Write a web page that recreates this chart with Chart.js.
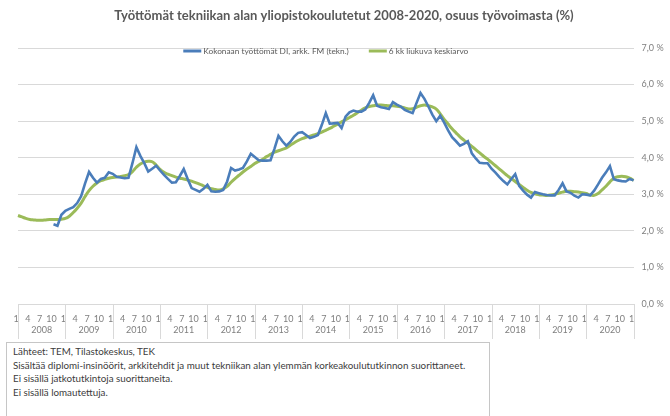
<!DOCTYPE html>
<html>
<head>
<meta charset="utf-8">
<title>Työttömät tekniikan alan yliopistokoulutetut</title>
<style>
	body { margin: 0; background: #fff; }
	#wrap { position: relative; width: 670px; height: 416px; overflow: hidden; }
	#note {
		position: absolute; left: 6px; top: 342px; width: 470px; height: 90px;
		border: 1px solid #c6c6c6; padding: 2px 6px; white-space: nowrap;
		font-family: Lato, "Liberation Sans", sans-serif; font-size: 9.8px; line-height: 13.6px; color: #3c3c3c;
	}
</style>
</head>
<body>
<div id="wrap">
	<canvas id="chart" width="670" height="342"></canvas>
	<div id="note">
		Lähteet: TEM, Tilastokeskus, TEK<br>
		Sisältää diplomi-insinöörit, arkkitehdit ja muut tekniikan alan ylemmän korkeakoulututkinnon suorittaneet.<br>
		Ei sisällä jatkotutkintoja suorittaneita.<br>
		Ei sisällä lomautettuja.
	</div>
</div>

<script src="https://cdn.jsdelivr.net/npm/chart.js"></script>
<script type="text/javascript">

	var years = [2008, 2009, 2010, 2011, 2012, 2013, 2014, 2015, 2016, 2017, 2018, 2019, 2020];
	var monthTicks = [1, 4, 7, 10];		// months that get a label on the axis
	var yTicks = [0, 1, 2, 3, 4, 5, 6, 7];

	// Kokonaan työttömät DI, arkk. FM (tekn.), % — monthly from 1/2008 to 1/2021, series starts 10/2008
	var unemployed = [null, null, null, null, null, null, null, null, null,
		2.18, 2.14, 2.44,
		2.55, 2.60, 2.65, 2.76, 2.95, 3.30, 3.61, 3.45, 3.32, 3.42, 3.45, 3.60,
		3.56, 3.48, 3.46, 3.44, 3.45, 3.85, 4.29, 4.05, 3.85, 3.62, 3.70, 3.78,
		3.65, 3.53, 3.42, 3.32, 3.33, 3.50, 3.69, 3.42, 3.17, 3.12, 3.07, 3.15,
		3.26, 3.08, 3.07, 3.08, 3.12, 3.35, 3.72, 3.65, 3.68, 3.72, 3.90, 4.11,
		4.02, 3.93, 3.92, 3.92, 3.93, 4.25, 4.60, 4.45, 4.33, 4.43, 4.58, 4.68,
		4.70, 4.62, 4.54, 4.57, 4.62, 4.90, 5.22, 4.93, 4.94, 4.95, 4.81, 5.12,
		5.24, 5.29, 5.26, 5.26, 5.32, 5.50, 5.71, 5.42, 5.38, 5.36, 5.33, 5.52,
		5.45, 5.40, 5.31, 5.26, 5.22, 5.50, 5.77, 5.61, 5.40, 5.18, 5.00, 5.15,
		4.96, 4.75, 4.56, 4.45, 4.33, 4.38, 4.45, 4.12, 3.98, 3.86, 3.85, 3.85,
		3.70, 3.59, 3.47, 3.36, 3.27, 3.42, 3.55, 3.23, 3.10, 2.99, 2.91, 3.06,
		3.03, 3.00, 2.98, 2.97, 2.97, 3.12, 3.30, 3.08, 3.04, 2.96, 2.91, 3.00,
		2.99, 2.97, 3.10, 3.27, 3.45, 3.60, 3.77, 3.41, 3.38, 3.36, 3.35, 3.42,
		3.38];

	// 6 kk liukuva keskiarvo, %
	var movingAvg = [
		2.42, 2.38, 2.34, 2.31, 2.30, 2.29, 2.29, 2.30, 2.31, 2.31, 2.31, 2.32,
		2.34, 2.40, 2.50, 2.62, 2.76, 2.94, 3.10, 3.22, 3.31, 3.37, 3.41, 3.44,
		3.46, 3.47, 3.49, 3.51, 3.54, 3.62, 3.74, 3.83, 3.88, 3.90, 3.89, 3.80,
		3.68, 3.60, 3.55, 3.51, 3.47, 3.44, 3.42, 3.39, 3.36, 3.32, 3.28, 3.23,
		3.19, 3.15, 3.13, 3.12, 3.15, 3.22, 3.33, 3.43, 3.52, 3.61, 3.69, 3.76,
		3.84, 3.90, 3.96, 4.03, 4.09, 4.15, 4.19, 4.23, 4.27, 4.34, 4.41, 4.47,
		4.52, 4.56, 4.59, 4.62, 4.66, 4.70, 4.75, 4.80, 4.86, 4.92, 4.98, 5.04,
		5.10, 5.16, 5.23, 5.30, 5.36, 5.40, 5.42, 5.44, 5.44, 5.43, 5.42, 5.42,
		5.41, 5.39, 5.36, 5.33, 5.34, 5.38, 5.42, 5.44, 5.42, 5.39, 5.33, 5.20,
		5.05, 4.92, 4.79, 4.68, 4.57, 4.48, 4.40, 4.31, 4.22, 4.13, 4.04, 3.96,
		3.87, 3.78, 3.69, 3.60, 3.51, 3.43, 3.35, 3.27, 3.19, 3.11, 3.05, 3.01,
		2.99, 2.98, 2.97, 2.98, 3.00, 3.03, 3.06, 3.08, 3.08, 3.07, 3.06, 3.04,
		3.02, 2.98, 2.97, 3.02, 3.12, 3.22, 3.34, 3.44, 3.48, 3.49, 3.48, 3.44,
		3.38];

	var FONT = 'Lato, "Liberation Sans", sans-serif';

	// month labels "m/yyyy", one per data point (last one is 1/2021)
	var labelList = [];
	years.forEach(function (y) {
		for (var m = 1; m <= 12; m++) labelList.push(m + '/' + y);
	});
	labelList.push('1/' + (years[years.length - 1] + 1));

	// year row under the month labels, with separators between years
	var yearRow = {
		id: 'yearRow',
		afterDraw: function (chart) {
			var ctx = chart.ctx, xs = chart.scales.x, top = chart.chartArea.bottom;
			ctx.save();
			ctx.strokeStyle = '#d9d9d9';
			ctx.lineWidth = 1;
			for (var i = 0; i <= years.length; i++) {
				var px = Math.round(xs.getPixelForValue(i * 12)) + 0.5;
				ctx.beginPath();
				ctx.moveTo(px, top);
				ctx.lineTo(px, top + 35);
				ctx.stroke();
			}
			ctx.fillStyle = '#7f7f7f';
			ctx.font = '9px ' + FONT;
			ctx.textAlign = 'center';
			ctx.textBaseline = 'middle';
			years.forEach(function (y, i) {
				ctx.fillText(String(y), xs.getPixelForValue(i * 12 + 6), top + 26);
			});
			ctx.restore();
		}
	};

	// legend drawn inside the plot, under the top gridline
	var innerLegend = {
		id: 'innerLegend',
		afterDraw: function (chart) {
			var ctx = chart.ctx, area = chart.chartArea;
			var sample = 18, gap = 2, between = 20, y = area.top + 3;
			ctx.save();
			ctx.font = '8.3px ' + FONT;
			var items = chart.data.datasets.map(function (ds) {
				return { ds: ds, w: sample + gap + ctx.measureText(ds.label).width };
			});
			var total = items.reduce(function (s, it) { return s + it.w; }, 0) + between * (items.length - 1);
			var x = (area.left + area.right) / 2 - total / 2;
			items.forEach(function (it) {
				ctx.strokeStyle = it.ds.borderColor;
				ctx.lineWidth = 3;
				ctx.beginPath();
				ctx.moveTo(x, y);
				ctx.lineTo(x + sample, y);
				ctx.stroke();
				ctx.fillStyle = '#595959';
				ctx.textAlign = 'left';
				ctx.textBaseline = 'middle';
				ctx.fillText(it.ds.label, x + sample + gap, y);
				x += it.w + between;
			});
			ctx.restore();
		}
	};

	function makeChart() {
		new Chart('chart', {
			type: 'line',
			data: {
				labels: labelList,
				datasets: [{
					label: 'Kokonaan työttömät DI, arkk. FM (tekn.)',
					data: unemployed,
					borderColor: '#4a7dba',
					borderWidth: 2.6,
					pointRadius: 0,
					tension: 0,
					spanGaps: false
				}, {
					label: '6 kk liukuva keskiarvo',
					data: movingAvg,
					borderColor: '#9bbb59',
					borderWidth: 3,
					pointRadius: 0,
					tension: 0.4
				}]
			},
			options: {
				responsive: false,
				animation: false,
				layout: { padding: { left: 18, right: 0, top: 0, bottom: 0 } },
				plugins: {
					legend: { display: false },
					tooltip: { enabled: false },
					title: {
						display: true,
						text: 'Työttömät tekniikan alan yliopistokoulutetut 2008-2020, osuus työvoimasta (%)',
						color: '#595959',
						font: { family: FONT, size: 13, weight: 'bold' },
						padding: { top: 8, bottom: 24.4 }
					}
				},
				scales: {
					x: {
						type: 'category',
						offset: false,
						grid: { display: false },
						border: { display: false },
						ticks: {
							autoSkip: false,
							maxRotation: 0,
							minRotation: 0,
							padding: 2,
							labelOffset: -2,
							color: '#7f7f7f',
							font: { family: FONT, size: 9 },
							callback: function (val, i) {
								var m = parseInt(labelList[i], 10);
								return monthTicks.indexOf(m) >= 0 ? String(m) : null;
							}
						},
						afterFit: function (scale) { scale.height = 38; }
					},
					y: {
						position: 'right',
						min: yTicks[0],
						max: yTicks[yTicks.length - 1],
						grid: { color: '#d9d9d9', drawTicks: false },
						border: { display: false },
						afterBuildTicks: function (scale) {
							scale.ticks = yTicks.map(function (v) { return { value: v }; });
						},
						ticks: {
							padding: 8,
							color: '#7f7f7f',
							font: { family: FONT, size: 9 },
							callback: function (v) { return v.toFixed(1).replace('.', ',') + ' %'; }
						},
						afterFit: function (scale) { scale.width = 36.4; }
					}
				}
			},
			plugins: [yearRow, innerLegend]
		});
	}

	window.onload = makeChart;

</script>
</body>
</html>
